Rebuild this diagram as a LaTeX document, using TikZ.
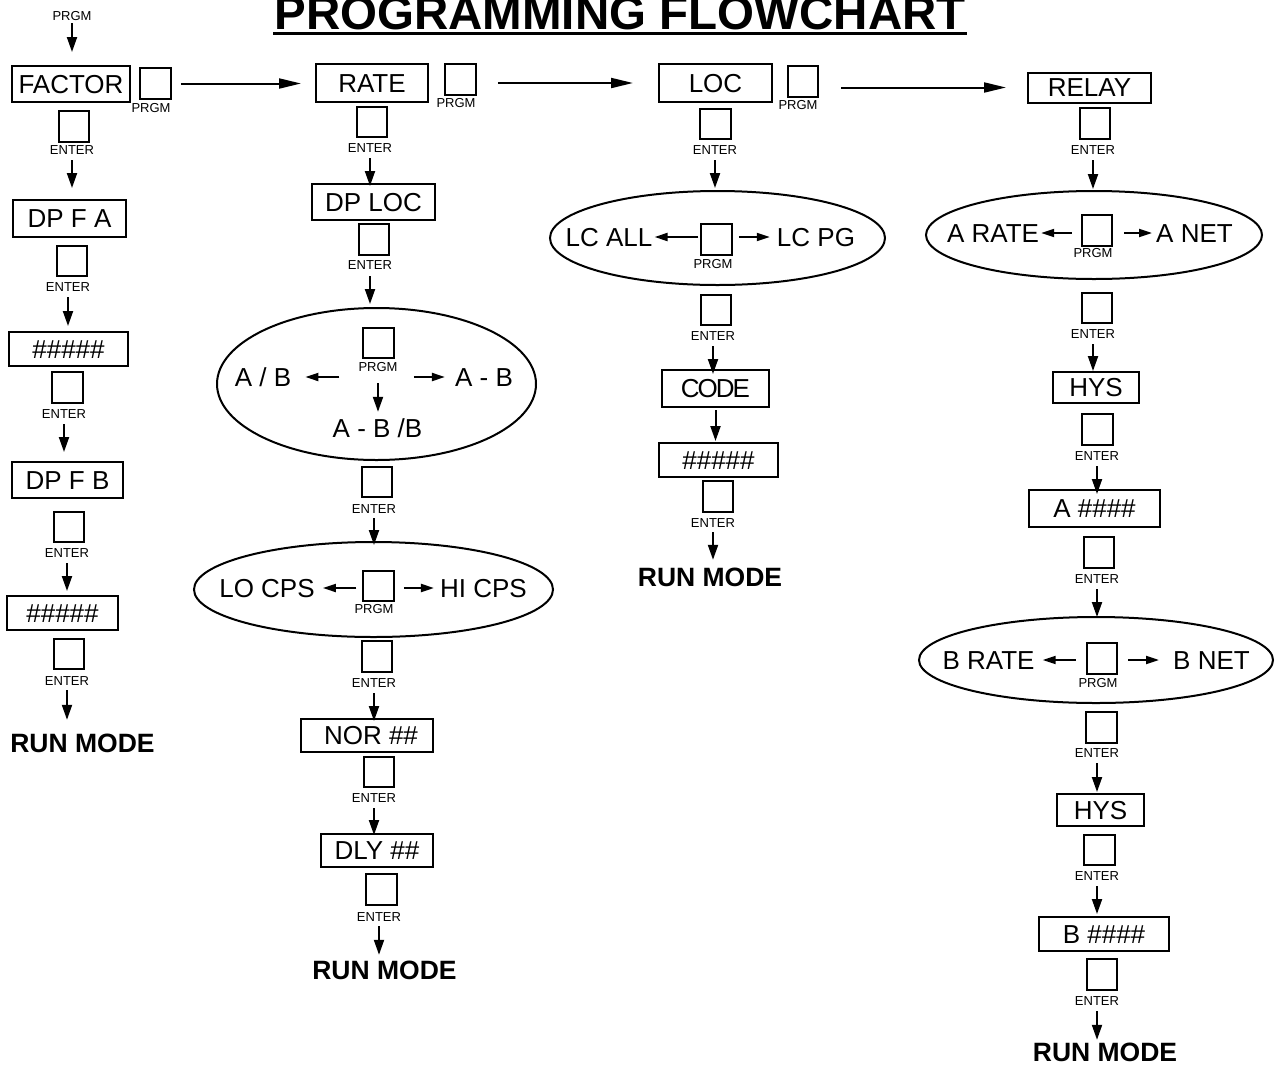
\documentclass[tikz,border=0pt]{standalone}
\usepackage{fontspec}
\setmainfont{Liberation Sans}
\usetikzlibrary{arrows.meta,shapes.geometric,calc}
\newcommand\vflow[4]{\draw[varr,shorten <=#3pt,shorten >=#4pt] (#1.south) -- (#1.south |- #2.north);}
\begin{document}
\begin{tikzpicture}[x=1pt,y=-1pt,
  lw/.style={line width=2pt},
  box/.style={draw,lw,inner sep=0pt,font=\fontsize{26}{26}\selectfont,text height=18.6pt,text depth=0pt},
  txt/.style={inner sep=0pt,font=\fontsize{26}{26}\selectfont,text height=18.6pt,text depth=0pt},
  oval/.style={draw,lw,ellipse,inner sep=0pt},
  key/.style={draw,lw,minimum size=30.5pt,inner sep=0pt},
  lbl/.style={inner sep=0pt,font=\fontsize{13}{13}\selectfont,text height=9.3pt,text depth=0pt},
  run/.style={inner sep=0pt,font=\bfseries\fontsize{26.5}{26.5}\selectfont,text height=19pt,text depth=0pt},
  varr/.style={lw,-{Triangle[length=15pt,width=10pt]}},
  harr/.style={lw,-{Triangle[length=22pt,width=10pt]}},
  sarr/.style={lw,-{Triangle[length=13pt,width=8pt]}},
]
\path[use as bounding box,fill=white] (0,0) rectangle (1277,1066);

% title
\node[inner sep=0pt,anchor=base,font=\bfseries\fontsize{47.5}{47.5}\selectfont] (title) at (620,29) {PROGRAMMING FLOWCHART};
\draw[line width=2.6pt] ($(title.base west)+(-1,4.5)$) -- ($(title.base east)+(1,4.5)$);

% ellipses (behind)
\node[oval,minimum width=319pt,minimum height=152pt] (ell1) at (376.5,384) {};
\node[oval,minimum width=359pt,minimum height=95pt] (ell2) at (373.5,589.5) {};
\node[oval,minimum width=335pt,minimum height=94pt] (ell3) at (717.5,238) {};
\node[oval,minimum width=336pt,minimum height=88pt] (ell4) at (1094,235) {};
\node[oval,minimum width=354pt,minimum height=86pt] (ell5) at (1096,660) {};

% column 1
\node[lbl] (p0) at (72,16) {PRGM};
\node[box,minimum width=118pt,minimum height=36pt] (factor) at (71,84) {FACTOR};
\node[key] (kf) at (155.5,83.5) {};
\node[lbl] (kfl) at (151,108) {PRGM};
\node[key] (e1k) at (74,126.5) {};
\node[lbl] (e1) at (72,150) {ENTER};
\node[box,minimum width=113pt,minimum height=37pt] (dpfa) at (69.5,218.5) {DP F A};
\node[key] (e2k) at (72,261) {};
\node[lbl] (e2) at (68,287) {ENTER};
\node[box,minimum width=119pt,minimum height=34pt] (h1) at (68.5,349) {\#\#\#\#\#};
\node[key] (e3k) at (67.5,387.5) {};
\node[lbl] (e3) at (64,414) {ENTER};
\node[box,minimum width=111pt,minimum height=36pt] (dpfb) at (67.5,480) {DP F B};
\node[key] (e4k) at (69,527) {};
\node[lbl] (e4) at (67,553) {ENTER};
\node[box,minimum width=111pt,minimum height=34pt] (h2) at (62.5,613) {\#\#\#\#\#};
\node[key] (e5k) at (69,654) {};
\node[lbl] (e5) at (67,681) {ENTER};
\node[run] (run1) at (82.5,742.5) {RUN MODE};

% column 2
\node[box,minimum width=112pt,minimum height=38pt] (rate) at (372,83) {RATE};
\node[key] (kr) at (460.5,79.5) {};
\node[lbl] (krl) at (456,103) {PRGM};
\node[key] (e6k) at (372,122) {};
\node[lbl] (e6) at (370,148) {ENTER};
\node[box,minimum width=123pt,minimum height=36pt] (dploc) at (373.5,202) {DP LOC};
\node[key] (e7k) at (374,239.5) {};
\node[lbl] (e7) at (370,265) {ENTER};
\node[key] (k1) at (378.5,343) {};
\node[lbl] (k1l) at (378,367) {PRGM};
\node[txt] (ab) at (263,377) {A / B};
\node[txt] (amb) at (484,377) {A - B};
\node[txt] (ambb) at (377.5,428) {A - B /B};
\node[key] (e8k) at (377,482) {};
\node[lbl] (e8) at (374,508.5) {ENTER};
\node[txt] (lo) at (267,588) {LO CPS};
\node[key] (k2) at (378.5,586) {};
\node[lbl] (k2l) at (374,609) {PRGM};
\node[txt] (hi) at (483.5,588) {HI CPS};
\node[key] (e9k) at (377,656.5) {};
\node[lbl] (e9) at (374,683) {ENTER};
\node[box,minimum width=132pt,minimum height=33pt] (nor) at (367,735.5) {\hspace{8pt}NOR \#\#};
\node[key] (e10k) at (379,772) {};
\node[lbl] (e10) at (374,798) {ENTER};
\node[box,minimum width=112pt,minimum height=33pt] (dly) at (377,850.5) {DLY \#\#\hspace{6pt}};
\node[key] (e11k) at (381.5,889.5) {};
\node[lbl] (e11) at (379,917) {ENTER};
\node[run] (run2) at (384.5,970) {RUN MODE};

% column 3
\node[box,minimum width=113pt,minimum height=38pt] (loc) at (715.5,83) {LOC};
\node[key] (kl) at (803,81.5) {};
\node[lbl] (kll) at (798,105) {PRGM};
\node[key] (e12k) at (715.5,124) {};
\node[lbl] (e12) at (715,150) {ENTER};
\node[txt] (lcall) at (609,237) {LC ALL};
\node[key] (k3) at (716.5,239.5) {};
\node[lbl] (k3l) at (713,264) {PRGM};
\node[txt] (lcpg) at (816,237) {LC PG};
\node[key] (e13k) at (716,310) {};
\node[lbl] (e13) at (713,336) {ENTER};
\node[box,minimum width=107pt,minimum height=37pt] (code) at (715.5,388.5) {C\kern-2pt O\kern-2pt D\kern-2pt E};
\node[box,minimum width=119pt,minimum height=34pt] (h3) at (718.5,460) {\#\#\#\#\#};
\node[key] (e14k) at (718,496.5) {};
\node[lbl] (e14) at (713,523) {ENTER};
\node[run] (run3) at (710,577) {RUN MODE};

% column 4
\node[box,minimum width=123pt,minimum height=30pt] (relay) at (1089.5,87.5) {RELAY};
\node[key] (e15k) at (1095,123.5) {};
\node[lbl] (e15) at (1093,150) {ENTER};
\node[txt] (arate) at (993,233) {A RATE};
\node[key] (k4) at (1097,230.5) {};
\node[lbl] (k4l) at (1093,253) {PRGM};
\node[txt] (anet) at (1194.5,233) {A NET};
\node[key] (e16k) at (1097,308) {};
\node[lbl] (e16) at (1093,334) {ENTER};
\node[box,minimum width=86pt,minimum height=31pt] (hys1) at (1096,387.5) {HYS};
\node[key] (e17k) at (1097.5,429.5) {};
\node[lbl] (e17) at (1097,456) {ENTER};
\node[box,minimum width=131pt,minimum height=37pt] (ah) at (1094.5,508.5) {A \#\#\#\#};
\node[key] (e18k) at (1099,552.5) {};
\node[lbl] (e18) at (1097,579) {ENTER};
\node[txt] (brate) at (988.5,660) {B RATE};
\node[key] (k5) at (1102,658.5) {};
\node[lbl] (k5l) at (1098,683) {PRGM};
\node[txt] (bnet) at (1211.5,660) {B NET};
\node[key] (e19k) at (1101.5,727.5) {};
\node[lbl] (e19) at (1097,753) {ENTER};
\node[box,minimum width=87pt,minimum height=32pt] (hys2) at (1100.5,810) {HYS};
\node[key] (e20k) at (1099.5,850) {};
\node[lbl] (e20) at (1097,876) {ENTER};
\node[box,minimum width=130pt,minimum height=34pt] (bh) at (1104,934) {B \#\#\#\#\hspace{5pt}};
\node[key] (e21k) at (1102,974.5) {};
\node[lbl] (e21) at (1097,1001) {ENTER};
\node[run] (run4) at (1105,1052) {RUN MODE};

% long horizontal arrows
\draw[harr,shorten <=9pt,shorten >=14pt] (kf.east) -- (kf.east -| rate.west);
\draw[harr,shorten <=21pt,shorten >=25pt] (loc.west -| kr.east) -- (loc.west);
\draw[harr,shorten <=22pt,shorten >=21pt] (relay.west -| kl.east) -- (relay.west);

% vertical arrows
\vflow{p0}{factor}{2.35}{13}
\vflow{e1}{dpfa}{5.35}{11}
\vflow{e2}{h1}{5.35}{5}
\vflow{e3}{dpfb}{5.35}{9}
\vflow{e4}{h2}{5.35}{4}
\vflow{e5}{run1}{4.35}{13}
\vflow{e6}{dploc}{5.35}{-3}
\vflow{e7}{ell1}{6.35}{3}
\vflow{k1l}{ambb}{11.35}{6.7}
\vflow{e8}{ell2}{4.85}{-4}
\vflow{e9}{nor}{5.35}{-3}
\vflow{e10}{dly}{5.35}{-2}
\vflow{e11}{run2}{4.35}{5.5}
\vflow{e12}{ell3}{5.35}{2}
\vflow{e13}{code}{5.35}{-5}
\vflow{code}{h3}{2}{1}
\vflow{e14}{run3}{4.35}{7.5}
\vflow{e15}{ell4}{5.35}{1}
\vflow{e16}{hys1}{5.35}{0}
\vflow{e17}{ah}{5.35}{-5}
\vflow{e18}{ell5}{5.35}{-1}
\vflow{e19}{hys2}{5.35}{1}
\vflow{e20}{bh}{5.35}{2}
\vflow{e21}{run4}{5.35}{2.5}

% arrows inside ellipses
\draw[sarr,shorten <=23pt,shorten >=14pt] (k1.west |- ab.east) -- (ab.east);
\draw[sarr,shorten <=19pt,shorten >=10pt] (k1.east |- amb.west) -- (amb.west);
\draw[sarr,shorten <=6pt,shorten >=8pt] (k2.west |- lo.east) -- (lo.east);
\draw[sarr,shorten <=9pt,shorten >=6pt] (k2.east |- hi.west) -- (hi.west);
\draw[sarr,shorten <=2pt,shorten >=2pt] (k3.west |- lcall.east) -- (lcall.east);
\draw[sarr,shorten <=6pt,shorten >=7pt] (k3.east |- lcpg.west) -- (lcpg.west);
\draw[sarr,shorten <=9pt,shorten >=2pt] (k4.west |- arate.east) -- (arate.east);
\draw[sarr,shorten <=11pt,shorten >=4pt] (k4.east |- anet.west) -- (anet.west);
\draw[sarr,shorten <=10pt,shorten >=8pt] (k5.west |- brate.east) -- (brate.east);
\draw[sarr,shorten <=10pt,shorten >=14pt] (k5.east |- bnet.west) -- (bnet.west);
\end{tikzpicture}
\end{document}
